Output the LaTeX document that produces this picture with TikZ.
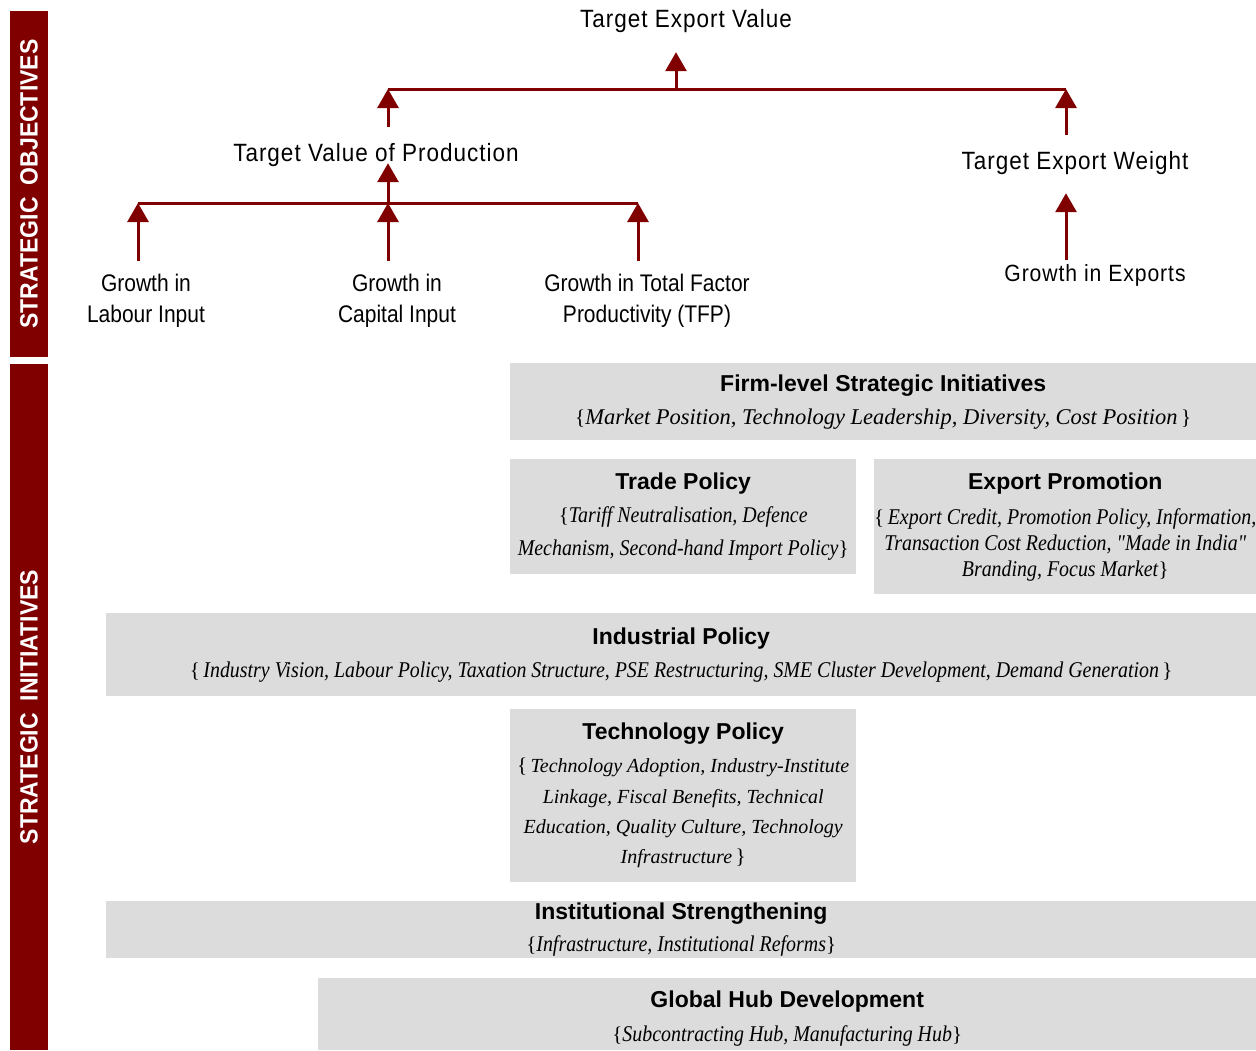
\documentclass[tikz,border=0pt]{standalone}
\usepackage{fontspec}
\setmainfont{Liberation Serif}
\setsansfont{Liberation Sans}
\usetikzlibrary{arrows.meta}
\definecolor{maroon}{HTML}{800000}
\definecolor{boxgray}{HTML}{DCDCDC}
\newfontfamily\tgtfont[FakeStretch=0.9,LetterSpace=4]{Liberation Sans}
\newfontfamily\grwfont[FakeStretch=0.875]{Liberation Sans}
\newfontfamily\ttlfont{Liberation Sans}
\newfontfamily\sidefont[FakeStretch=0.92]{Liberation Sans}
\newfontfamily\itcond[FakeStretch=0.885]{Liberation Serif}
\newfontfamily\itnorm{Liberation Serif}
\newcommand{\ttl}[1]{{\ttlfont\bfseries\fontsize{23}{33}\selectfont #1}}
\newcommand{\itx}[1]{{\itcond\itshape\fontsize{22.5}{33}\selectfont #1}}
\newcommand{\itw}[1]{{\itnorm\itshape\fontsize{22.5}{33}\selectfont #1}}
\newcommand{\itt}[1]{{\itnorm\itshape\fontsize{20}{33}\selectfont #1}}
\newcommand{\lb}{\textup{\{}}
\newcommand{\rb}{\textup{\}}}
\tikzset{
  arr/.style={draw=maroon, line width=3pt, -{Triangle[width=21pt,length=19pt]}},
  hbar/.style={draw=maroon, line width=3pt},
  tlbl/.style={font=\tgtfont\fontsize{25}{31}\selectfont, inner sep=0pt, text height=18pt, text depth=3pt, anchor=base},
  glbl/.style={font=\grwfont\fontsize{24}{31}\selectfont, inner sep=0pt, align=center, anchor=north},
  gbox/.style={fill=boxgray, inner sep=0pt, anchor=north west, align=center, font=\fontsize{21}{33}\selectfont},
  sidebar/.style={fill=maroon, rotate=90, text=white, inner sep=0pt, font=\sidefont\bfseries\fontsize{25}{25}\selectfont}
}
\begin{document}
\begin{tikzpicture}[x=1pt,y=-1pt]
\useasboundingbox (0,0) rectangle (1256,1050);

% side bars
\node[sidebar, minimum width=346pt, minimum height=38pt] (so) at (29,184) {STRATEGIC\hspace{12pt}OBJECTIVES};
\node[sidebar, minimum width=686pt, minimum height=38pt] (si) at (29,707) {STRATEGIC\hspace{12pt}INITIATIVES};

% tree labels
\node[tlbl] (tev) at (686,27) {Target Export Value};
\node[tlbl] (tvp) at (376,161) {Target Value of Production};
\node[tlbl] (tew) at (1075,169) {Target Export Weight};
\node[tlbl, font=\tgtfont\fontsize{23.5}{31}\selectfont] (ge) at (1095,281) {Growth in Exports};
\node[glbl] (gl) at (146,274) {Growth in\\Labour Input};
\node[glbl] (gc) at (397,274) {Growth in\\Capital Input};
\node[glbl] (gt) at (647,274) {Growth in Total Factor\\Productivity (TFP)};

% junction coordinates
\coordinate (jL) at (388,89);
\coordinate (jT) at (676,89);
\coordinate (jR) at (1066,89);
\coordinate (k1) at (138,203);
\coordinate (k2) at (388,203);
\coordinate (k3) at (638,203);

\draw[hbar] (jL) -- (jR);
\draw[arr, shorten >=22pt] (jT) -- (tev.south -| jT);
\draw[arr, shorten <=16pt] (tvp.north -| jL) -- (jL);
\draw[arr, shorten <=16pt] (tew.north -| jR) -- (jR);

\draw[hbar] (k1) -- (k3);
\draw[arr, shorten >=-1pt] (k2) -- (tvp.south -| k2);
\draw[arr, shorten <=13pt] (gl.north -| k1) -- (k1);
\draw[arr, shorten <=13pt] (gc.north -| k2) -- (k2);
\draw[arr, shorten <=13pt] (gt.north -| k3) -- (k3);
\draw[arr, shorten <=3pt, shorten >=21pt] (ge.north -| jR) -- (tew.south -| jR);

% boxes
\node[gbox, minimum width=746pt, minimum height=77pt] (firm) at (510,363)
  {\ttl{Firm-level Strategic Initiatives}\\
   \lb\itw{Market Position, Technology Leadership, Diversity, Cost Position}\,\rb};
\node[gbox, minimum width=346pt, minimum height=115pt] (trade) at (510,459)
  {\ttl{Trade Policy}\\
   \lb\itx{Tariff Neutralisation, Defence}\\
   \itx{Mechanism, Second-hand Import Policy}\rb};
\node[gbox, minimum width=382pt, minimum height=135pt] (exp) at (874,459)
  {\ttl{Export Promotion}\\[2pt]
   \lb\,\itx{Export Credit, Promotion Policy, Information,}\\[-7pt]
   \itx{Transaction Cost Reduction, "Made in India"}\\[-7pt]
   \itx{Branding, Focus Market}\rb};
\node[gbox, minimum width=1150pt, minimum height=83pt] (ind) at (106,613)
  {\ttl{Industrial Policy}\\
   \lb\,\itx{Industry Vision, Labour Policy, Taxation Structure, PSE Restructuring, SME Cluster Development, Demand Generation}\,\rb};
\node[gbox, minimum width=346pt, minimum height=173pt] (tech) at (510,709)
  {\ttl{Technology Policy}\\
   \lb\,\itt{Technology Adoption, Industry-Institute}\\[-2pt]
   \itt{Linkage, Fiscal Benefits, Technical}\\[-3pt]
   \itt{Education, Quality Culture, Technology}\\[-3pt]
   \itt{Infrastructure}\,\rb};
\node[gbox, minimum width=1150pt, minimum height=57pt] (inst) at (106,901)
  {\ttl{Institutional Strengthening}\\[-1pt]
   \lb\itx{Infrastructure, Institutional Reforms}\rb};
\node[gbox, minimum width=938pt, minimum height=72pt] (hub) at (318,978)
  {\rule{0pt}{25pt}\ttl{Global Hub Development}\\[1pt]
   \lb\itx{Subcontracting Hub, Manufacturing Hub}\rb};
\end{tikzpicture}
\end{document}
